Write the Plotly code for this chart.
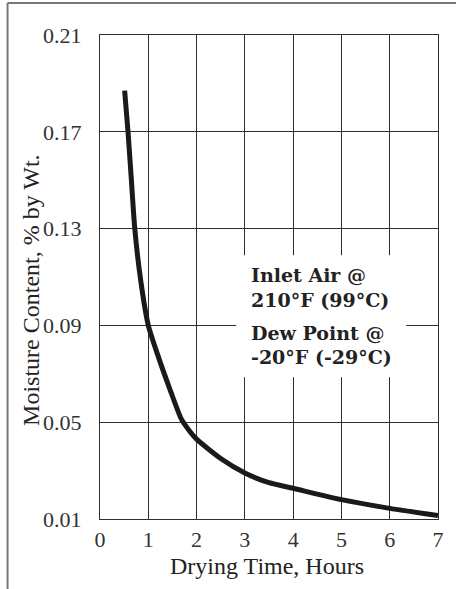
import plotly.graph_objects as go

# Data
drying_hours = [0.51, 0.58, 0.65, 0.72, 0.84, 1.0, 1.2, 1.45, 1.68, 1.85, 2.0, 2.5, 3.0, 3.5, 4.0, 5.0, 6.0, 7.0]
moisture = [0.187, 0.170, 0.150, 0.130, 0.109, 0.090, 0.0775, 0.0635, 0.0515, 0.0465, 0.0430, 0.035, 0.029, 0.025, 0.0227, 0.018, 0.0144, 0.0114]
x_ticks = [0, 1, 2, 3, 4, 5, 6, 7]
y_ticks = [0.01, 0.05, 0.09, 0.13, 0.17, 0.21]
y_tick_labels = ["0.01", "0.05", "0.09", "0.13", "0.17", "0.21"]
note_lines = ["Inlet Air @", "210°F (99°C)", "Dew Point @", "-20°F (-29°C)"]

W, H = 456, 589
L, R, T, B = 100, 16, 35, 70
PW, PH = W - L - R, H - T - B


def px(xp):
    return (xp - L) / PW


def py(yp):
    return (H - B - yp) / PH


serif = "Liberation Serif, Times New Roman, serif"
grid = "#2e2e2e"

fig = go.Figure()
fig.add_trace(go.Scatter(
    x=drying_hours, y=moisture, mode="lines",
    line=dict(color="#1a1a1a", width=5, shape="spline", smoothing=0.6),
    hoverinfo="skip", showlegend=False,
))

fig.update_layout(
    width=W, height=H,
    margin=dict(l=L, r=R, t=T, b=B),
    paper_bgcolor="white", plot_bgcolor="white",
    showlegend=False,
    xaxis=dict(range=[0, 7], tickvals=x_ticks, showgrid=True, gridcolor=grid, gridwidth=1,
               zeroline=False, showline=True, linecolor=grid, linewidth=1.2, mirror=True,
               ticks="", tickfont=dict(family=serif, size=22, color="#333")),
    yaxis=dict(range=[0.01, 0.21], tickvals=y_ticks, ticktext=y_tick_labels, showgrid=True,
               gridcolor=grid, gridwidth=1, zeroline=False, showline=True, linecolor=grid,
               linewidth=1.2, mirror=True, ticks="outside", ticklen=13,
               tickcolor="rgba(0,0,0,0)", tickfont=dict(family=serif, size=22, color="#333")),
)

# white panel behind the note text
fig.add_shape(type="rect", xref="x", yref="y", x0=2.82, x1=6.34, y0=0.0686, y1=0.119,
              fillcolor="white", line=dict(width=0), layer="above")

# outer frame (top & left edges visible in the reference)
fig.add_shape(type="line", xref="paper", yref="paper", x0=px(7), x1=px(7), y0=py(H + 5), y1=py(3),
              line=dict(color="#777", width=2))
fig.add_shape(type="line", xref="paper", yref="paper", x0=px(7), x1=px(W + 5), y0=py(3), y1=py(3),
              line=dict(color="#777", width=2))

# axis titles
fig.add_annotation(text="Drying Time, Hours", xref="paper", yref="paper", x=px(268), y=py(566),
                   xanchor="center", yanchor="middle", showarrow=False,
                   font=dict(family=serif, size=24, color="#222"))
fig.add_annotation(text="Moisture Content, % by Wt.", xref="paper", yref="paper", x=px(30),
                   y=py(289.5), xanchor="center", yanchor="middle", textangle=-90, showarrow=False,
                   font=dict(family=serif, size=24, color="#222"))

# note text
note_y = [275, 300, 333.4, 356.7]
for txt, yy in zip(note_lines, note_y):
    fig.add_annotation(text="<b>" + txt + "</b>", xref="paper", yref="paper", x=px(250), y=py(yy),
                       xanchor="left", yanchor="middle", showarrow=False,
                       font=dict(family="DejaVu Serif, serif", size=19, color="#222"))

fig.write_html("out.html", config={"displayModeBar": False},
               post_script="document.body.style.margin='0px';document.body.style.overflow='hidden';")
